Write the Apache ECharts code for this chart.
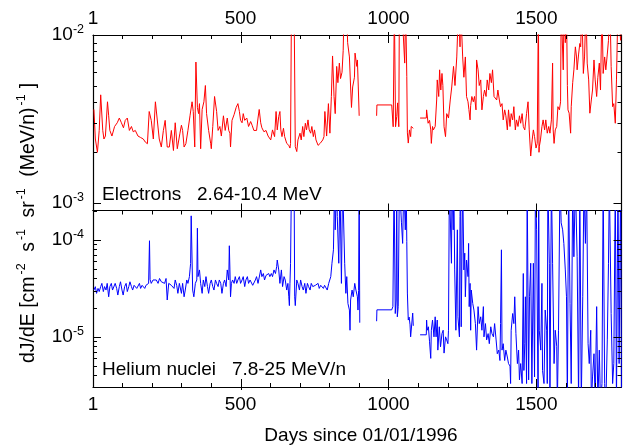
<!DOCTYPE html>
<html>
<head>
<meta charset="utf-8">
<script src="https://cdn.jsdelivr.net/npm/echarts@6/dist/echarts.min.js"></script>
<style>
  html, body { margin: 0; padding: 0; background: #fff; }
  #chart { width: 623px; height: 448px; }
</style>
</head>
<body>
<div id="chart"></div>
<script>
// x axis: days since 01/01/1996
const dayMin = 1;
const dayMax = 1788;
const dayLabels = [1, 500, 1000, 1500];
const dayMajor = [500, 1000, 1500];
const dayMinor = [100, 200, 300, 400, 500, 600, 700, 800, 900, 1000, 1100, 1200, 1300, 1400, 1500, 1600, 1700];

// y axes (log)
const elecRange = [9.0e-4, 1e-2];
const elecMajor = [1e-3, 1e-2];
const elecMinor = [2e-3, 3e-3, 4e-3, 5e-3, 6e-3, 7e-3, 8e-3, 9e-3];
const heRange = [3.04e-6, 2.01e-4];
const heMajor = [1e-5, 1e-4];
const heMinor = [4e-6, 5e-6, 6e-6, 7e-6, 8e-6, 9e-6, 2e-5, 3e-5, 4e-5, 5e-5, 6e-5, 7e-5, 8e-5, 9e-5, 2e-4];

// electrons 2.64-10.4 MeV  [day, dJ/dE]
const electrons = [
  [4,3.6e-3],[9,2.4e-3],[16,2.0e-3],[22,2.7e-3],[27,4.4e-3],[34,2.7e-3],[38,2.4e-3],[43,2.5e-3],[50,4.0e-3],[54,3.3e-3],
  [58,2.7e-3],[65,2.5e-3],[74,2.85e-3],[83,3.0e-3],[90,3.2e-3],[97,3.0e-3],[104,2.8e-3],[110,3.1e-3],[117,3.2e-3],[124,2.7e-3],
  [131,2.85e-3],[137,2.65e-3],[144,2.7e-3],[153,2.5e-3],[162,2.45e-3],[171,2.4e-3],[178,2.3e-3],[185,2.25e-3],[191,3.5e-3],[198,3.1e-3],
  [205,2.4e-3],[212,4.0e-3],[218,3.9e-3],[225,2.4e-3],[232,2.15e-3],[239,2.7e-3],[245,3.1e-3],[252,2.15e-3],[259,2.15e-3],[266,2.7e-3],
  [273,2.05e-3],[279,3.0e-3],[286,2.1e-3],[295,2.6e-3],[300,2.9e-3],[304,2.7e-3],[309,2.15e-3],[315,2.25e-3],[322,2.7e-3],[329,3.3e-3],
  [336,4.0e-3],[340,3.5e-3],[345,2.15e-3],[349,6.9e-3],[354,3.7e-3],[358,3.4e-3],[361,3.9e-3],[365,2.1e-3],[370,3.6e-3],[376,4.0e-3],
  [381,5.0e-3],[385,3.4e-3],[392,2.7e-3],[399,2.25e-3],[401,2.1e-3],[406,2.85e-3],[412,4.3e-3],[419,3.5e-3],[424,2.7e-3],[430,2.85e-3],
  [435,2.5e-3],[442,3.3e-3],[448,2.7e-3],[455,3.2e-3],[460,2.7e-3],[464,2.6e-3],[466,2.15e-3],[471,3.1e-3],[478,3.35e-3],[485,3.7e-3],
  [491,3.9e-3],[496,3.5e-3],[500,3.1e-3],[505,3.0e-3],[509,3.4e-3],[514,3.1e-3],[521,3.2e-3],[527,2.85e-3],[534,3.05e-3],[539,2.9e-3],
  [545,2.7e-3],[554,2.7e-3],[559,3.2e-3],[563,3.6e-3],[568,3.0e-3],[572,2.8e-3],[579,2.65e-3],[586,2.7e-3],[593,2.5e-3],[599,2.45e-3],
  [602,2.37e-3],[608,2.72e-3],[615,2.48e-3],[620,3.5e-3],[624,2.72e-3],[629,3.27e-3],[633,3.5e-3],[636,2.72e-3],[640,2.48e-3],[645,2.78e-3],
  [649,2.48e-3],[656,2.26e-3],[663,2.2e-3],[667,2.12e-3],[669,2.26e-3],[672,1.5e-2],[676,1.5e-2],[681,1.5e-2],[685,2.16e-3],[690,2.02e-3],
  [694,2.37e-3],[701,2.6e-3],[705,2.37e-3],[710,2.85e-3],[714,2.48e-3],[719,2.98e-3],[723,2.72e-3],[728,3.12e-3],[732,2.72e-3],[737,2.6e-3],
  [741,2.85e-3],[746,2.48e-3],[750,2.72e-3],[755,2.37e-3],[762,2.2e-3],[769,2.26e-3],[773,2.32e-3],[778,2.37e-3],[782,2.48e-3],[785,3.5e-3],
  [791,2.5e-3],[797,3.9e-3],[802,2.6e-3],[807,4.3e-3],[811,7.5e-3],[816,4.3e-3],[820,3.4e-3],[825,6.5e-3],[829,5.2e-3],[834,6.8e-3],
  [838,5.5e-3],[843,6e-3],[847,8.1e-3],[850,1.5e-2],[858,1.5e-2],[862,9e-3],[868,7.4e-3],[872,4.9e-3],[875,3.7e-3],[879,4.9e-3],
  [885,5.6e-3],[887,7.8e-3],[893,6.5e-3],[895,7.1e-3],[898,4.9e-3],[901,3.3e-3],[930,null],
  [960,3.3e-3],[961,3.83e-3],[1011,3.83e-3],[1016,2.84e-3],[1020,1.5e-2],[1024,2.84e-3],[1028,3.27e-3],[1031,3.94e-3],[1035,2.84e-3],[1037,1.5e-2],
  [1045,1.5e-2],[1050,1.5e-2],[1055,6.8e-3],[1058,1.5e-2],[1062,5.65e-3],[1064,2.61e-3],[1067,2.27e-3],[1071,2.72e-3],[1075,2.48e-3],[1077,2.85e-3],
  [1082,2.9e-3],[1084,2.78e-3],[1095,null],
  [1107,3.2e-3],[1128,3.2e-3],[1129,3.58e-3],[1134,2.98e-3],[1139,3.1e-3],[1143,2.72e-3],[1145,2.26e-3],[1149,2.85e-3],[1152,2.72e-3],[1158,2.85e-3],
  [1163,4.1e-3],[1165,5.4e-3],[1170,4.3e-3],[1173,6.2e-3],[1177,4.7e-3],[1181,5.9e-3],[1184,5.0e-3],[1188,2.84e-3],[1193,2.48e-3],[1197,3.4e-3],
  [1203,3.2e-3],[1209,4.1e-3],[1214,4.9e-3],[1220,6.5e-3],[1225,5.0e-3],[1231,7.4e-3],[1237,1.5e-2],[1242,8.5e-3],[1244,1.5e-2],[1248,1.5e-2],
  [1251,7.4e-3],[1255,5.6e-3],[1260,7.4e-3],[1264,4.3e-3],[1269,4.0e-3],[1272,3.6e-3],[1276,3.12e-3],[1278,3.8e-3],[1282,4.3e-3],[1287,4.0e-3],
  [1291,4.3e-3],[1296,3.58e-3],[1298,7.1e-3],[1303,6.2e-3],[1307,5.0e-3],[1312,5.4e-3],[1316,3.58e-3],[1321,4.3e-3],[1325,4.7e-3],[1330,4.3e-3],
  [1334,5.4e-3],[1339,4.7e-3],[1343,5.9e-3],[1348,5.2e-3],[1352,6.2e-3],[1357,4.3e-3],[1361,4.4e-3],[1366,4.1e-3],[1370,4.7e-3],[1375,4.1e-3],
  [1379,3.74e-3],[1384,3.9e-3],[1388,3.12e-3],[1393,3.58e-3],[1397,3.3e-3],[1402,2.72e-3],[1406,3.58e-3],[1411,2.85e-3],[1415,3.4e-3],[1420,3.12e-3],
  [1424,3.74e-3],[1429,2.72e-3],[1433,3.12e-3],[1438,2.85e-3],[1443,3.3e-3],[1447,2.98e-3],[1452,3.4e-3],[1456,2.85e-3],[1461,2.72e-3],[1467,3.4e-3],
  [1472,4.0e-3],[1476,2.72e-3],[1481,1.9e-3],[1486,2.37e-3],[1490,2.72e-3],[1494,2.48e-3],[1499,2.12e-3],[1503,2.26e-3],[1507,1.5e-2],[1509,2.0e-3],
  [1510,2.16e-3],[1514,2.37e-3],[1519,2.85e-3],[1523,3.12e-3],[1528,2.72e-3],[1532,3.12e-3],[1537,2.6e-3],[1542,2.85e-3],[1546,2.6e-3],[1551,3.12e-3],
  [1555,6.8e-3],[1557,2.72e-3],[1560,2.26e-3],[1564,2.72e-3],[1569,2.85e-3],[1573,3.74e-3],[1578,3.58e-3],[1582,4.0e-3],[1584,1.5e-2],[1588,1.5e-2],
  [1591,6.2e-3],[1594,1.5e-2],[1598,9e-3],[1602,1.5e-2],[1605,5e-3],[1607,3.58e-3],[1611,3.42e-3],[1616,2.6e-3],[1618,3.74e-3],[1623,5.2e-3],
  [1627,6.2e-3],[1632,8.5e-3],[1636,7.4e-3],[1638,6.2e-3],[1643,7.7e-3],[1647,8.9e-3],[1650,8.5e-3],[1654,1.5e-2],[1659,5.9e-3],[1663,7.4e-3],
  [1668,1.5e-2],[1672,6.8e-3],[1677,5.4e-3],[1681,3.42e-3],[1686,4.1e-3],[1690,4.7e-3],[1695,7.1e-3],[1699,5.4e-3],[1704,4.3e-3],[1708,5.6e-3],
  [1713,6.8e-3],[1717,4.7e-3],[1722,1.5e-2],[1726,5.9e-3],[1731,7.4e-3],[1735,6.2e-3],[1740,7.7e-3],[1744,9.3e-3],[1749,1.5e-2],[1753,6.5e-3],
  [1758,3.74e-3],[1762,3.9e-3],[1767,2.98e-3],[1771,5.4e-3],[1776,1.5e-2],[1780,1.5e-2],[1785,9.3e-3],[1788,1.2e-2]
];

// helium nuclei 7.8-25 MeV/n  [day, dJ/dE]
const helium = [
  [4,3.04e-5],[9,3.29e-5],[13,2.81e-5],[18,3.16e-5],[22,2.93e-5],[27,3.3e-5],[31,3.56e-5],[36,2.93e-5],[40,3.3e-5],[45,3.04e-5],
  [49,3.56e-5],[54,2.59e-5],[58,3.3e-5],[63,3.56e-5],[67,3.04e-5],[72,2.93e-5],[76,3.56e-5],[81,3.16e-5],[85,2.7e-5],[90,3.3e-5],
  [94,3.7e-5],[99,3.04e-5],[103,2.7e-5],[108,3.3e-5],[113,3.56e-5],[117,2.93e-5],[122,3.3e-5],[126,3.7e-5],[131,3.3e-5],[135,3.04e-5],
  [140,3.4e-5],[144,3.3e-5],[149,3.16e-5],[153,3.3e-5],[158,3.56e-5],[162,3.16e-5],[167,3.4e-5],[171,3.56e-5],[176,3.16e-5],[180,3.4e-5],
  [185,3.56e-5],[189,3.56e-5],[192,9.8e-5],[194,3.9e-5],[198,3.56e-5],[204,3.86e-5],[209,3.7e-5],[215,3.86e-5],[221,3.56e-5],[226,4.0e-5],
  [232,3.7e-5],[238,3.86e-5],[243,3.56e-5],[248,4.0e-5],[252,2.4e-5],[257,3.56e-5],[261,3.7e-5],[266,3.4e-5],[270,3.56e-5],[275,3.16e-5],
  [279,3.86e-5],[284,3.4e-5],[288,2.81e-5],[293,3.56e-5],[300,2.81e-5],[304,3.56e-5],[309,2.59e-5],[313,3.04e-5],[318,3.86e-5],[322,3.56e-5],
  [327,4.18e-5],[329,4.9e-5],[331,5.7e-5],[333,1.77e-4],[336,1.74e-4],[338,3.04e-5],[340,2.81e-5],[342,2.59e-5],[347,3.56e-5],[352,3.86e-5],
  [354,1.32e-4],[356,4.18e-5],[361,4.9e-5],[365,3.56e-5],[370,2.81e-5],[374,3.86e-5],[379,3.3e-5],[383,4.18e-5],[388,3.3e-5],[392,2.81e-5],
  [397,3.56e-5],[401,3.86e-5],[406,3.3e-5],[410,3.04e-5],[415,3.86e-5],[419,3.56e-5],[424,3.3e-5],[428,3.86e-5],[433,3.56e-5],[437,2.81e-5],
  [442,3.56e-5],[446,3.86e-5],[451,3.3e-5],[455,4.9e-5],[460,3.86e-5],[462,8.7e-5],[464,4.9e-5],[466,2.59e-5],[469,3.56e-5],[473,3.86e-5],
  [478,3.56e-5],[482,4.18e-5],[487,3.56e-5],[491,3.86e-5],[496,4.18e-5],[500,3.56e-5],[505,3.86e-5],[509,4.18e-5],[514,3.3e-5],[518,3.86e-5],
  [523,4.18e-5],[527,3.56e-5],[532,3.86e-5],[536,4.0e-5],[541,3.4e-5],[545,3.56e-5],[550,3.86e-5],[554,4.18e-5],[559,3.56e-5],[563,3.56e-5],
  [568,4.9e-5],[572,4.18e-5],[577,4.5e-5],[581,3.86e-5],[586,4.3e-5],[590,4.18e-5],[595,4.5e-5],[599,4.18e-5],[604,4.5e-5],[608,4.18e-5],
  [613,4.9e-5],[618,4.5e-5],[622,5.3e-5],[624,6.2e-5],[629,4.9e-5],[633,3.56e-5],[638,4.9e-5],[642,3.3e-5],[647,4.18e-5],[651,3.86e-5],
  [656,3.04e-5],[660,3.56e-5],[663,2.59e-5],[665,2.1e-5],[667,3.56e-5],[669,5.74e-5],[672,4e-4],[676,4e-4],[681,4e-4],[683,2.59e-5],
  [685,2.1e-5],[690,3.86e-5],[694,3.56e-5],[699,3.04e-5],[703,3.86e-5],[708,3.3e-5],[712,3.04e-5],[717,3.56e-5],[721,2.81e-5],[726,3.56e-5],
  [730,3.3e-5],[735,3.04e-5],[739,3.56e-5],[744,3.3e-5],[748,3.16e-5],[753,3.4e-5],[757,3.3e-5],[762,3.56e-5],[766,3.16e-5],[771,3.4e-5],
  [775,3.3e-5],[780,3.16e-5],[784,3.4e-5],[789,3.3e-5],[793,3.04e-5],[798,3.56e-5],[802,3.56e-5],[805,4.18e-5],[809,5.74e-5],[814,7.9e-5],
  [818,4e-4],[820,1.27e-4],[825,4e-4],[827,1.74e-4],[832,5.74e-5],[836,4e-4],[841,3.56e-5],[845,4e-4],[848,4e-4],[852,5.74e-5],
  [856,2.81e-5],[859,4.18e-5],[863,2.21e-5],[868,1.89e-5],[870,1.17e-5],[872,2.4e-5],[877,3.04e-5],[881,2.59e-5],[886,3.56e-5],[890,3.04e-5],
  [895,2.59e-5],[897,1.89e-5],[899,3.0e-5],[901,4e-4],[903,1.4e-5],[930,null],
  [960,1.45e-5],[961,1.9e-5],[1011,1.9e-5],[1015,2.05e-5],[1019,4e-4],[1023,1.74e-5],[1026,2.4e-5],[1028,4e-4],[1030,1.61e-5],[1033,2.05e-5],
  [1037,4e-4],[1041,4e-4],[1044,1.5e-4],[1048,9.2e-5],[1052,4e-4],[1057,1.27e-4],[1060,4e-4],[1062,9.6e-5],[1064,2.83e-5],[1067,1.49e-5],
  [1070,1.6e-5],[1073,1.33e-5],[1075,1.0e-5],[1079,1.04e-5],[1082,1.76e-5],[1084,1.3e-5],[1095,null],
  [1107,1.05e-5],[1128,1.05e-5],[1129,1.49e-5],[1131,1.17e-5],[1135,1.27e-5],[1139,8.9e-6],[1143,6.0e-6],[1145,1.17e-5],[1149,1.49e-5],[1154,1.0e-5],
  [1158,1.61e-5],[1161,1.0e-5],[1165,1.49e-5],[1167,7.3e-6],[1172,1.27e-5],[1176,7.9e-6],[1181,1.08e-5],[1185,1.17e-5],[1188,6.8e-6],[1193,1.0e-5],
  [1197,9.3e-6],[1201,8.5e-6],[1203,1.17e-5],[1206,4e-4],[1210,4e-4],[1213,5.74e-5],[1215,4e-4],[1219,1.27e-4],[1221,4e-4],[1224,4.9e-5],
  [1228,1.17e-5],[1233,1.27e-4],[1235,1.61e-5],[1240,1.0e-5],[1242,1.74e-4],[1244,4e-4],[1246,1.27e-5],[1251,4e-4],[1255,4.9e-5],[1258,7.3e-5],
  [1260,2.59e-5],[1264,6.2e-5],[1269,4.18e-5],[1271,9.2e-5],[1273,2.05e-5],[1276,3.56e-5],[1278,1.17e-5],[1280,3.04e-5],[1285,2.21e-5],[1289,1.89e-5],
  [1294,1.37e-5],[1298,7.3e-6],[1303,2.05e-5],[1307,1.37e-5],[1312,1.61e-5],[1316,1.17e-5],[1321,2.05e-5],[1323,1.0e-5],[1328,1.37e-5],[1332,9.3e-6],
  [1337,1.08e-5],[1341,8.5e-6],[1346,1.27e-5],[1350,1.08e-5],[1355,1.0e-5],[1359,1.37e-5],[1364,9.3e-6],[1368,6.7e-6],[1373,7.3e-6],[1377,5.7e-6],
  [1379,1.37e-5],[1382,7.9e-5],[1384,7.3e-6],[1388,8.5e-6],[1393,5.7e-6],[1397,7.3e-6],[1402,6.2e-6],[1406,5.3e-6],[1411,5.0e-6],[1413,3.3e-6],
  [1415,1.17e-5],[1420,1.74e-5],[1424,1.37e-5],[1427,2.59e-5],[1431,1.08e-5],[1436,5.3e-6],[1440,7.3e-6],[1443,3.6e-6],[1447,5.3e-6],[1452,3.3e-6],
  [1456,4.5e-5],[1458,4.5e-6],[1461,8.5e-6],[1463,2.59e-5],[1467,3.3e-6],[1469,4e-4],[1474,3.6e-6],[1477,2.59e-5],[1481,5.74e-5],[1485,3.3e-6],
  [1490,5.74e-5],[1494,3.86e-6],[1497,4e-4],[1501,1.27e-4],[1506,2e-6],[1508,4e-4],[1510,1.17e-5],[1515,7.3e-6],[1519,3.56e-5],[1521,4.5e-6],
  [1526,3.3e-6],[1530,1.89e-5],[1535,1.17e-5],[1537,3.3e-6],[1539,4e-4],[1544,5.74e-5],[1546,2e-6],[1551,4e-4],[1555,5.74e-5],[1560,5.3e-6],
  [1564,1.17e-5],[1569,8e-6],[1571,2e-6],[1575,1.17e-5],[1580,4e-4],[1584,1.5e-4],[1589,1.27e-4],[1593,9.2e-5],[1598,4.9e-5],[1602,2.59e-5],
  [1605,2e-6],[1609,4e-4],[1614,2.21e-5],[1618,3.3e-6],[1623,4e-4],[1627,6.7e-5],[1632,4e-4],[1638,6.7e-5],[1643,2e-6],[1647,4e-4],
  [1652,2e-6],[1657,2.59e-5],[1661,4e-4],[1666,9.2e-5],[1670,4e-4],[1675,8.5e-6],[1679,5.3e-6],[1684,1.17e-5],[1686,2e-6],[1690,3.86e-6],
  [1695,6.7e-6],[1699,2e-6],[1704,2.05e-5],[1708,2e-6],[1713,7.3e-6],[1717,2e-6],[1722,3.3e-6],[1726,4e-4],[1731,3.3e-6],[1735,2e-6],
  [1740,9.3e-6],[1744,5.74e-5],[1747,4e-4],[1753,1.74e-5],[1758,3.3e-6],[1762,5.3e-6],[1767,4e-4],[1771,2e-6],[1776,4e-4],[1780,5.3e-6],
  [1785,4e-4],[1788,2e-6]
];

const FONT = '"Liberation Sans", Arial, sans-serif';
const chart = echarts.init(document.getElementById('chart'), null, { renderer: 'canvas' });

const frame = { show: true, onZero: false, lineStyle: { color: '#000', width: 1.2 } };
const dayLabel = (margin) => ({
  show: true, customValues: dayLabels, margin: margin, formatter: v => String(v),
  color: '#000', fontSize: 19, fontFamily: FONT
});
const powLabel = (vals) => ({
  show: true, customValues: vals, margin: 9,
  formatter: v => '{b|10}{s|' + Math.round(Math.log10(v)) + '}',
  rich: {
    b: { fontSize: 19, fontFamily: FONT, color: '#000', lineHeight: 24 },
    s: { fontSize: 12.5, fontFamily: FONT, color: '#000', lineHeight: 12, verticalAlign: 'top' }
  }
});

function xAx(grid, pos, extra) {
  return Object.assign({
    type: 'value', gridIndex: grid, position: pos, min: dayMin, max: dayMax,
    splitLine: { show: false }, axisLine: frame,
    axisTick: { show: false }, axisLabel: { show: false }
  }, extra);
}
function yAx(grid, pos, range, extra) {
  return Object.assign({
    type: 'log', logBase: 10, gridIndex: grid, position: pos, min: range[0], max: range[1],
    splitLine: { show: false }, axisLine: frame,
    axisTick: { show: false }, axisLabel: { show: false }
  }, extra);
}

// tick marks, placed through the axes' own scales: [day, flux, kind]
// kind 0 = minor day tick, 1 = major day tick, 2 = minor flux tick, 3 = major flux tick
function tickData(range, major, minor) {
  const d = [];
  dayMinor.forEach(v => d.push([v, range[0], 0]));
  dayMajor.forEach(v => d.push([v, range[0], 1]));
  minor.forEach(v => d.push([dayMin, v, 2]));
  major.forEach(v => d.push([dayMin, v, 3]));
  return d;
}
function tickRenderer(cfg) {
  return function (params, api) {
    const cs = params.coordSys;
    const kind = api.value(2);
    const pt = api.coord([api.value(0), api.value(1)]);
    const kids = [];
    const seg = (x1, y1, x2, y2) => kids.push({
      type: 'line', shape: { x1: x1, y1: y1, x2: x2, y2: y2 },
      style: { stroke: '#000', lineWidth: 1 }
    });
    if (kind < 2) {
      const x = Math.round(pt[0]) + 0.5;
      const major = kind === 1;
      const top = cs.y, bot = cs.y + cs.height;
      const tIn = major ? cfg.topMajor : cfg.topMinor;
      if (tIn) seg(x, top - (major ? cfg.topOut : 0), x, top + tIn);
      const bIn = major ? cfg.botMajor : cfg.botMinor;
      if (bIn) seg(x, bot + (major ? cfg.botOut : 0), x, bot - bIn);
    } else {
      const y = Math.round(pt[1]) + 0.5;
      const len = kind === 3 ? 8 : 4;
      seg(cs.x, y, cs.x + len, y);
      seg(cs.x + cs.width - len, y, cs.x + cs.width, y);
    }
    return { type: 'group', children: kids };
  };
}

const option = {
  animation: false,
  backgroundColor: '#fff',
  grid: [
    { left: 93, right: 1.5, top: 35, height: 175.5 },
    { left: 93, right: 1.5, top: 210.5, height: 176.5 }
  ],
  xAxis: [
    xAx(0, 'top', { axisLabel: dayLabel(7) }),
    xAx(0, 'bottom', {}),
    xAx(1, 'top', {}),
    xAx(1, 'bottom', { axisLabel: dayLabel(8) })
  ],
  yAxis: [
    yAx(0, 'left', elecRange, { axisLabel: powLabel(elecMajor) }),
    yAx(0, 'right', elecRange, {}),
    yAx(1, 'left', heRange, { axisLabel: powLabel(heMajor) }),
    yAx(1, 'right', heRange, {})
  ],
  series: [
    {
      name: 'Electrons', type: 'line', xAxisIndex: 0, yAxisIndex: 0,
      data: electrons, showSymbol: false, clip: true,
      lineStyle: { color: '#ff0000', width: 1 }, itemStyle: { color: '#ff0000' }
    },
    {
      name: 'Helium', type: 'line', xAxisIndex: 3, yAxisIndex: 2,
      data: helium, showSymbol: false, clip: true,
      lineStyle: { color: '#0000ff', width: 1 }, itemStyle: { color: '#0000ff' }
    },
    {
      type: 'custom', xAxisIndex: 0, yAxisIndex: 0, silent: true, z: 5,
      data: tickData(elecRange, elecMajor, elecMinor),
      renderItem: tickRenderer({ topMinor: 4, topMajor: 8, topOut: 3, botMinor: 0, botMajor: 7, botOut: 0 })
    },
    {
      type: 'custom', xAxisIndex: 3, yAxisIndex: 2, silent: true, z: 5,
      data: tickData(heRange, heMajor, heMinor),
      renderItem: tickRenderer({ topMinor: 4, topMajor: 7, topOut: 0, botMinor: 4, botMajor: 8, botOut: 3 })
    }
  ],
  graphic: [
    {
      type: 'text', x: 102, y: 194.5,
      style: { text: 'Electrons   2.64-10.4 MeV', fontSize: 19, fontFamily: FONT, fill: '#000', align: 'left', verticalAlign: 'middle' }
    },
    {
      type: 'text', x: 102, y: 369.5,
      style: { text: 'Helium nuclei   7.8-25 MeV/n', fontSize: 19, fontFamily: FONT, fill: '#000', align: 'left', verticalAlign: 'middle' }
    },
    {
      type: 'text', x: 361, y: 436,
      style: { text: 'Days since 01/01/1996', fontSize: 19, fontFamily: FONT, fill: '#000', align: 'center', verticalAlign: 'middle' }
    },
    {
      type: 'text', x: 29, y: 223, rotation: Math.PI / 2,
      style: {
        text: '{m|dJ/dE [cm}{s|-2}{m| s}{s|-1}{m| sr}{s|-1}{m| (MeV/n)}{s|-1}{m|]}',
        fontSize: 19, fontFamily: FONT, fill: '#000', align: 'center', verticalAlign: 'middle',
        rich: {
          m: { fontSize: 19.5, fontFamily: FONT, fill: '#000', color: '#000', lineHeight: 28 },
          s: { fontSize: 12.5, fontFamily: FONT, fill: '#000', color: '#000', lineHeight: 12, verticalAlign: 'top', padding: [0, 6, 0, 2] }
        }
      }
    }
  ]
};

chart.setOption(option);
</script>
</body>
</html>
